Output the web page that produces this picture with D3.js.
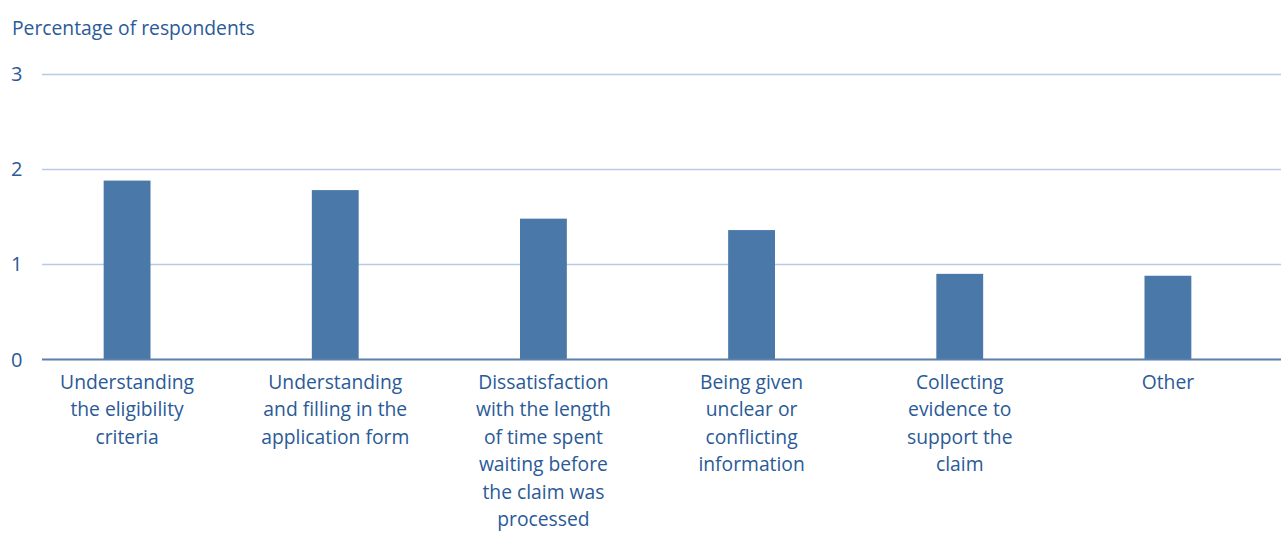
<!DOCTYPE html>
<html><head><meta charset="utf-8">
<script src="https://cdn.jsdelivr.net/npm/d3@7"></script>
<style>body{margin:0;background:#fff;} svg{display:block;}</style>
</head><body>
<svg id="chart" width="1281" height="533"></svg>
<script>
const categories = [
  ["Understanding", "the eligibility", "criteria"],
  ["Understanding", "and filling in the", "application form"],
  ["Dissatisfaction", "with the length", "of time spent", "waiting before", "the claim was", "processed"],
  ["Being given", "unclear or", "conflicting", "information"],
  ["Collecting", "evidence to", "support the", "claim"],
  ["Other"]
];
const values = [1.88, 1.78, 1.48, 1.36, 0.90, 0.88];
const yTicks = [0, 1, 2, 3];
const yTitle = "Percentage of respondents";

const textColor = "#2a5a97";
const barColor = "#4a78a8";
const font = "'Open Sans', sans-serif";

const svg = d3.select("#chart");
const keys = categories.map((c, i) => i);
const x = d3.scaleBand().domain(keys).range([23, 1272]).paddingInner(0.775).paddingOuter(0.3875);
const y = d3.scaleLinear().domain([0, 3]).range([359.5, 74]);

// gridlines
svg.append("g").selectAll("line").data(yTicks.filter(d => d > 0)).join("line")
  .attr("x1", 42).attr("x2", 1281)
  .attr("y1", d => Math.round(y(d)) + 0.5).attr("y2", d => Math.round(y(d)) + 0.5)
  .attr("stroke", "#b9cbe2").attr("stroke-width", 1.3);

// y tick labels
svg.append("g").selectAll("text").data(yTicks).join("text")
  .attr("x", 11).attr("y", d => y(d))
  .attr("dy", "0.35em")
  .attr("fill", textColor).attr("font-family", font).attr("font-size", 20)
  .text(d => d);

// title
svg.append("text").attr("x", 12).attr("y", 35)
  .attr("fill", textColor).attr("font-family", font).attr("font-size", 19.3)
  .text(yTitle);

// bars
svg.append("g").selectAll("rect").data(values).join("rect")
  .attr("x", (d, i) => x(i)).attr("width", x.bandwidth())
  .attr("y", d => y(d)).attr("height", d => y(0) - y(d))
  .attr("fill", barColor);

// baseline
svg.append("line").attr("x1", 42).attr("x2", 1281)
  .attr("y1", y(0)).attr("y2", y(0))
  .attr("stroke", "#5a80b0").attr("stroke-width", 2);

// category labels
const lab = svg.append("g").selectAll("text").data(categories).join("text")
  .attr("text-anchor", "middle")
  .attr("fill", textColor).attr("font-family", font).attr("font-size", 19.3)
  .attr("transform", (d, i) => `translate(${x(i) + x.bandwidth() / 2},0)`);
lab.selectAll("tspan").data(d => d).join("tspan")
  .attr("x", 0).attr("y", (d, j) => 389 + j * 27.4)
  .text(d => d);
</script>
</body></html>
